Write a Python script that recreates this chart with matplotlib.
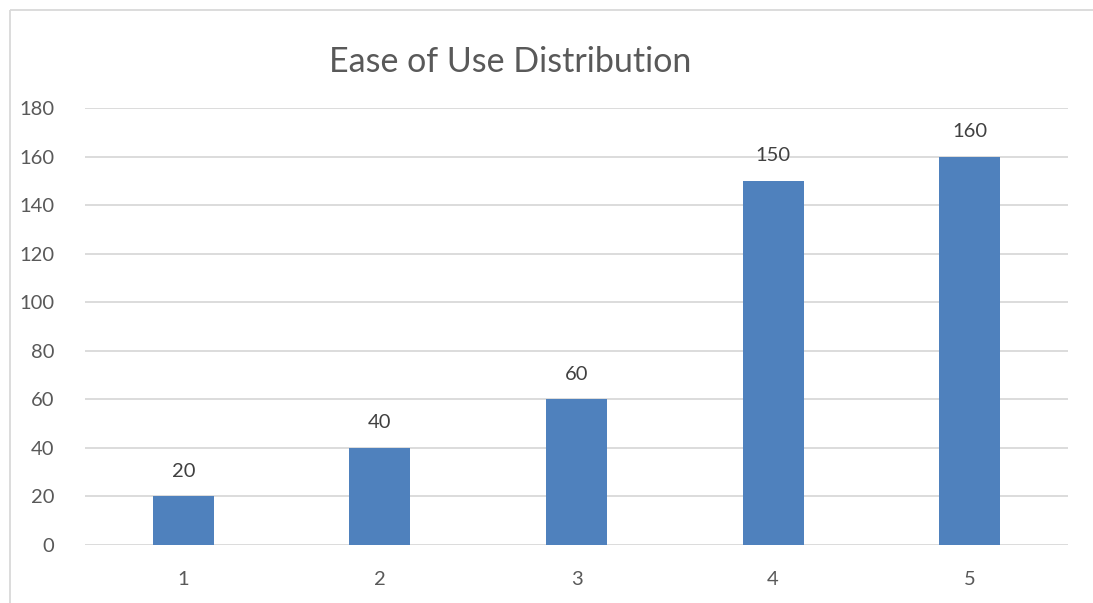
import matplotlib.pyplot as plt
from matplotlib.lines import Line2D

categories = ["1", "2", "3", "4", "5"]
counts = [20, 40, 60, 150, 160]
y_ticks = [0, 20, 40, 60, 80, 100, 120, 140, 160, 180]

W, H = 1093, 603
text_color = "#595959"
bar_color = "#4F81BD"
grid_color = "#D9D9D9"

plt.rcParams["font.family"] = ["Lato", "DejaVu Sans"]

fig = plt.figure(figsize=(W / 100, H / 100), dpi=100)

# outer chart frame: only the top and left edges are inside the image
fx, fy = 9.5 / W, 1 - 9.5 / H
fig.add_artist(Line2D([fx, 1.05], [fy, fy], transform=fig.transFigure,
                      color=grid_color, linewidth=1.3, solid_capstyle="butt"))
fig.add_artist(Line2D([fx, fx], [-0.05, fy], transform=fig.transFigure,
                      color=grid_color, linewidth=1.3, solid_capstyle="butt"))

left, right = 85 / W, 1068 / W
bottom, top = 1 - 545 / H, 1 - 108 / H
ax = fig.add_axes([left, bottom, right - left, top - bottom])

x = range(len(categories))
bars = ax.bar(x, counts, width=0.31, color=bar_color, zorder=3)

for b, v in zip(bars, counts):
    ax.annotate(str(v), (b.get_x() + b.get_width() / 2, v),
                xytext=(0, 12), textcoords="offset points",
                ha="center", va="bottom", fontsize=14.5, color="#404040")

ax.set_xlim(-0.5, len(categories) - 0.5)
ax.set_ylim(0, 180)
ax.set_yticks(y_ticks)
ax.set_xticks(list(x))
ax.set_xticklabels(categories)
ax.grid(axis="y", color=grid_color, linewidth=1.3, zorder=0)
for s in ax.spines.values():
    s.set_visible(False)
ax.tick_params(length=0, labelsize=14.5, labelcolor=text_color)
ax.tick_params(axis="y", pad=22)
ax.tick_params(axis="x", pad=19)

fig.text(510 / W, 1 - 62 / H, "Ease of Use Distribution", ha="center",
         va="center", fontsize=24.5, color=text_color)

fig.savefig("out.png", dpi=100, facecolor="white")
